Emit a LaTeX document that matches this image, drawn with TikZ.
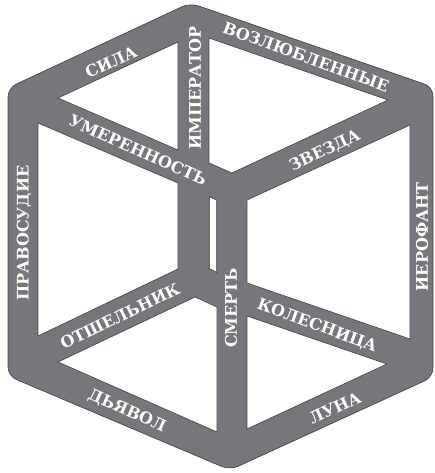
\documentclass[tikz,border=0pt]{standalone}
\usepackage{fontspec}
\setmainfont{DejaVu Serif}
\definecolor{barfill}{RGB}{118,119,123}
\definecolor{baredge}{RGB}{70,70,74}
\tikzset{
  bar/.style={fill=barfill, draw=baredge, line width=0.7pt, line join=round},
  hole/.style={fill=white, draw=baredge, line width=0.7pt, line join=miter},
  lbl/.style={text=white, font=\fontsize{16}{16}\selectfont\bfseries, inner sep=0pt, anchor=center}
}
\begin{document}
\begin{tikzpicture}[x=1pt,y=-1pt]
\useasboundingbox (0,0) rectangle (435,473);
% outer hexagon
\draw[bar, rounded corners=9pt] (190,3) -- (433,87) -- (433,377) -- (230,470) -- (8,376) -- (8,88) -- cycle;
% holes
\draw[hole] (58,98) -- (178,42) -- (178,150) -- cycle;
\draw[hole] (209,38) -- (388,100) -- (232,173) -- (209,163) -- cycle;
\draw[hole] (38,123) -- (178,183) -- (178,269) -- (38,336) -- cycle;
\draw[hole] (247,200) -- (410,125) -- (410,339) -- (247,283) -- cycle;
\draw[hole] (58,362) -- (195,297) -- (217,307) -- (217,432) -- cycle;
\draw[hole] (247,316) -- (387,364) -- (247,429) -- cycle;
\draw[hole] (209.3,196.7) -- (216.7,200) -- (216.7,272.5) -- (209.3,268.5) -- cycle;
% labels
\node[lbl, rotate=25] (sila) at (111,62) {СИЛА};
\node[lbl, rotate=90] (imperator) at (195,88) {ИМПЕРАТОР};
\node[lbl, rotate=-20] (vozl) at (306,57) {ВОЗЛЮБЛЕННЫЕ};
\node[lbl, rotate=-24] (umer) at (138,150) {УМЕРЕННОСТЬ};
\node[lbl, rotate=25] (zvezda) at (325,151) {ЗВЕЗДА};
\node[lbl, rotate=90] (pravo) at (24,233) {ПРАВОСУДИЕ};
\node[lbl, rotate=90] (ierofant) at (422,237) {ИЕРОФАНТ};
\node[lbl, rotate=26] (otsh) at (120,316) {ОТШЕЛЬНИК};
\node[lbl, rotate=90] (smert) at (231,308) {СМЕРТЬ};
\node[lbl, rotate=-20] (koles) at (317,326) {КОЛЕСНИЦА};
\node[lbl, rotate=-24] (dyavol) at (127,411) {ДЬЯВОЛ};
\node[lbl, rotate=25] (luna) at (335,408) {ЛУНА};
\end{tikzpicture}
\end{document}
